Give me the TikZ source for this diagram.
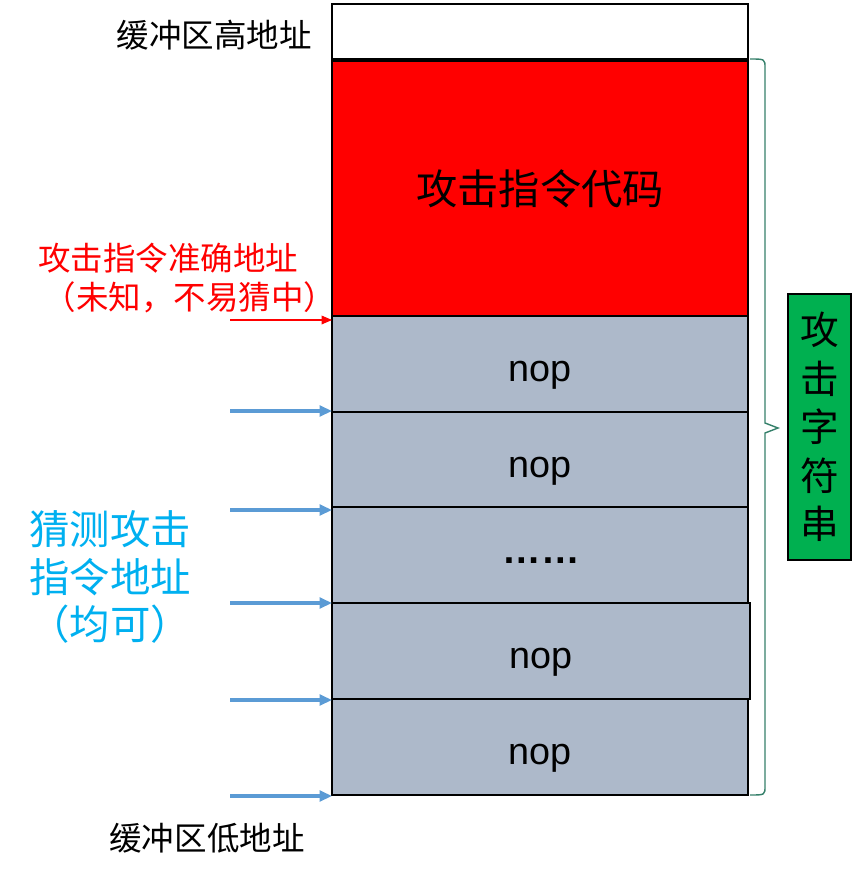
\documentclass[tikz,border=0pt]{standalone}
\usepackage{fontspec}
\setmainfont{Liberation Sans}
\newfontfamily\cjk{Noto Sans CJK SC}
\usetikzlibrary{arrows.meta}
\definecolor{cellgray}{HTML}{ADB9CA}
\definecolor{strgreen}{HTML}{00B050}
\definecolor{arrowblue}{HTML}{5B9BD5}
\definecolor{labelcyan}{HTML}{00B0F0}
\definecolor{bracegreen}{HTML}{35806A}
\tikzset{
  cell/.style={draw=black, line width=1.4pt, inner sep=0pt, outer sep=0pt,
    minimum width=8.32cm},
  noptext/.style={font=\fontsize{21.5}{24}\selectfont,
    text height=22.4pt, text depth=2pt},
  guess/.style={draw=arrowblue, line width=1.8pt,
    -{Triangle[length=7pt, width=6pt]}},
  exact/.style={draw=red, line width=0.6pt,
    -{Triangle[length=6pt, width=5pt]}}
}
\begin{document}
\begin{tikzpicture}[x=0.02cm, y=-0.02cm]
\useasboundingbox (0,0) rectangle (867,875);
% stack of the buffer
\node[cell, fill=white, minimum height=1.1cm] (top) at (540,31.5) {};
\node[cell, fill=red, minimum height=5.14cm,
      font=\cjk\fontsize{23.5}{24}\selectfont] (atk) at (540,189) {攻击指令代码};
\node[cell, fill=cellgray, minimum height=1.92cm, noptext] (nop1) at (540,364) {nop};
\node[cell, fill=cellgray, minimum height=1.9cm, noptext] (nop2) at (540,459.5) {nop};
\node[cell, fill=cellgray, minimum height=1.92cm] (dots) at (540,555) {};
\node[anchor=base, font=\bfseries\fontsize{22}{24}\selectfont] (dtxt) at (541,563) {……};
\node[cell, fill=cellgray, minimum height=1.92cm, minimum width=8.36cm,
      noptext] (nop4) at (541,651) {nop};
\node[cell, fill=cellgray, minimum height=1.92cm, noptext] (nop5) at (540,747) {nop};
% brace and attack string
\draw[bracegreen, line width=0.8pt]
    (750,59) .. controls (765,59) .. (765,68) -- (765,423)
    -- (778,428) -- (765,433) -- (765,786) .. controls (765,795) .. (750,795);
\node[draw=black, line width=1.1pt, fill=strgreen, inner sep=0pt,
      minimum width=1.26cm, minimum height=5.32cm, align=center,
      font=\cjk\fontsize{22}{27.6}\selectfont] (str) at (819.5,427)
      {攻\\击\\字\\符\\串};
% address labels
\node[anchor=east, font=\cjk\fontsize{18.5}{22}\selectfont] (hi) at (318,35) {缓冲区高地址};
\node[font=\cjk\fontsize{18.5}{22}\selectfont] (lo) at (207,838) {缓冲区低地址};
\node[anchor=west, align=left, text=red, inner sep=0pt,
      font=\cjk\fontsize{18.5}{22}\selectfont] (exlbl) at (38,278)
      {攻击指令准确地址\\\hspace*{3pt}（未知，不易猜中）};
\node[align=center, text=labelcyan, inner sep=0pt,
      font=\cjk\fontsize{23}{27}\selectfont] (gslbl) at (110,577)
      {猜测攻击\\指令地址\\（均可）};
% arrows
\coordinate (e1) at (230,320);
\draw[exact] (e1) -- (e1 -| nop1.west);
\coordinate (g1) at (230,411);
\draw[guess] (g1) -- (g1 -| nop1.west);
\coordinate (g2) at (230,510);
\draw[guess] (g2) -- (g2 -| nop2.west);
\coordinate (g3) at (230,603);
\draw[guess] (g3) -- (g3 -| dots.west);
\coordinate (g4) at (230,700);
\draw[guess] (g4) -- (g4 -| nop4.west);
\coordinate (g5) at (230,796);
\draw[guess] (g5) -- (g5 -| nop5.west);
\end{tikzpicture}
\end{document}
